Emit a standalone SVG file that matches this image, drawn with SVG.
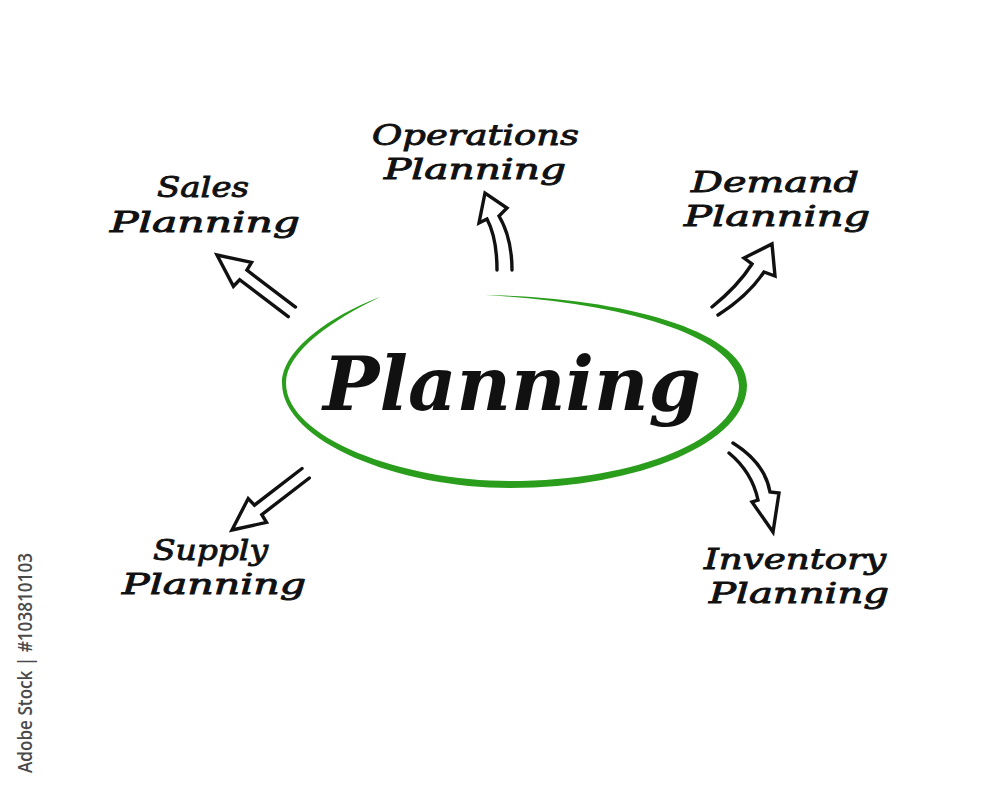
<svg xmlns="http://www.w3.org/2000/svg" width="1000" height="785" viewBox="0 0 1000 785">
<style>
.lbl{font-family:"DejaVu Serif","Liberation Serif",serif;font-style:italic;font-size:28px;fill:#111;stroke:#111;stroke-width:0.9}
.main{font-family:"DejaVu Serif","Liberation Serif",serif;font-style:italic;font-weight:bold;font-size:74px;fill:#111}
.arr{fill:none;stroke:#111;stroke-width:3.4;stroke-linejoin:miter;stroke-linecap:round}
.wm{font-family:"Open Sans","DejaVu Sans",sans-serif;font-weight:600;font-size:19px;fill:#4a4a4a}
</style>
<rect width="1000" height="785" fill="#ffffff"/>
<g id="center">
<path d="M 380,297 C 330,316 282,350 282,383 C 282,442 400,488 510,488 C 640,488 747,442 747,385 C 747,330 620,297 485,295 C 616,302 739,334 739,386 C 739,438 638,481 510,481 C 402,481 286,438 286,383 C 286,352 332,320 380,297 Z" fill="#2a9e1c"/>
<text class="main" x="323" y="410" textLength="378" lengthAdjust="spacingAndGlyphs">Planning</text>
</g>
<g id="connectors">
<path class="arr" transform="translate(217,255) rotate(217.2)" d="M -94,-6 L -33,-6 L -32,-15 L 0,0 L -32,15 L -33,6 L -94,6"/>
<path class="arr" transform="translate(232,530) rotate(142.4)" d="M -93,-6 L -33,-6 L -32,-15 L 0,0 L -32,15 L -33,6 L -93,6"/>
<path class="arr" d="M 497,270 Q 497,238 487,219 L 479,223 L 485,193 L 507,208 L 499,216 Q 512,238 512,270"/>
<path class="arr" d="M 712,307 Q 738,286 752,264 L 744,258 L 772,244 L 775,276 L 764,272 Q 748,296 718,315"/>
<path class="arr" d="M 733,443 Q 765,463 770,492 L 779,493 L 773,532 L 752,502 L 758,500 Q 752,472 729,453"/>
</g>
<g id="sales">
<text class="lbl" x="157" y="197" textLength="92" lengthAdjust="spacingAndGlyphs">Sales</text>
<text class="lbl" x="110" y="232" textLength="190" lengthAdjust="spacingAndGlyphs">Planning</text>
</g>
<g id="operations">
<text class="lbl" x="372" y="145" textLength="207" lengthAdjust="spacingAndGlyphs">Operations</text>
<text class="lbl" x="384" y="179" textLength="182" lengthAdjust="spacingAndGlyphs">Planning</text>
</g>
<g id="demand">
<text class="lbl" x="691" y="192" textLength="168" lengthAdjust="spacingAndGlyphs">Demand</text>
<text class="lbl" x="684" y="226" textLength="186" lengthAdjust="spacingAndGlyphs">Planning</text>
</g>
<g id="supply">
<text class="lbl" x="153" y="560" textLength="115" lengthAdjust="spacingAndGlyphs">Supply</text>
<text class="lbl" x="122" y="594" textLength="184" lengthAdjust="spacingAndGlyphs">Planning</text>
</g>
<g id="inventory">
<text class="lbl" x="704" y="569" textLength="182" lengthAdjust="spacingAndGlyphs">Inventory</text>
<text class="lbl" x="709" y="603" textLength="180" lengthAdjust="spacingAndGlyphs">Planning</text>
</g>
<g id="watermark">
<text class="wm" transform="translate(32,773) rotate(-90)" textLength="220" lengthAdjust="spacingAndGlyphs">Adobe Stock | #103810103</text>
</g>
</svg>
